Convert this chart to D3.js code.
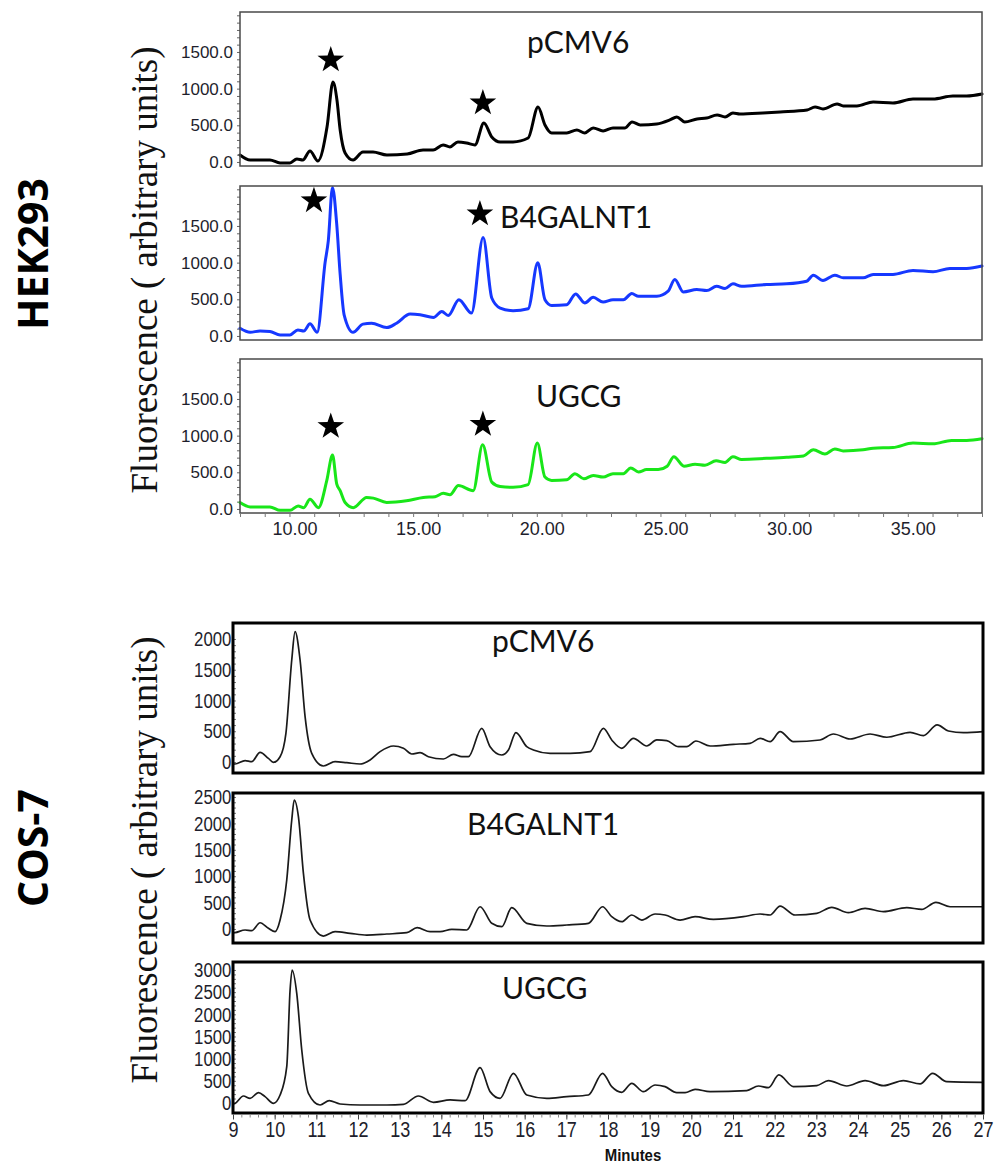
<!DOCTYPE html>
<html>
<head>
<meta charset="utf-8">
<script src="https://cdn.jsdelivr.net/npm/d3@7"></script>
<style>
  body { margin: 0; background: #fff; }
  svg { display: block; }
</style>
</head>
<body>
<svg id="chart" width="997" height="1166"></svg>
<script>
// ---------- HEK293 chromatograms: [retention time (min), fluorescence] ----------
const hekPcmv6 = [
  [8.0,95],[8.41,27],[9.21,27],[9.62,-14],[10.02,-14],[10.30,41],[10.54,27],[10.83,150],[11.15,14],
  [11.52,480],[11.76,1090],[11.92,845],[12.05,436],[12.25,123],[12.57,27],[12.97,136],[13.38,136],
  [13.94,95],[14.76,109],[15.40,164],[15.81,164],[16.21,232],[16.49,205],[16.81,273],[17.16,259],
  [17.50,232],[17.86,532],[18.18,341],[18.52,273],[19.04,273],[19.65,327],[20.05,750],[20.33,505],
  [20.60,396],[21.21,396],[21.62,436],[21.94,396],[22.28,464],[22.68,423],[23.08,464],[23.57,464],
  [23.85,546],[24.18,505],[24.85,518],[25.38,573],[25.66,614],[25.98,546],[26.48,587],[26.87,600],
  [27.29,641],[27.61,614],[27.93,668],[28.21,655],[29.14,668],[29.84,682],[30.93,709],[31.25,750],
  [31.57,723],[32.14,791],[32.39,764],[32.94,764],[33.60,818],[34.40,805],[35.21,859],[36.02,859],
  [36.82,900],[37.38,900],[38.0,927]
];
const hekB4galnt1 = [
  [8.0,105],[8.41,50],[8.81,69],[9.21,60],[9.62,14],[10.02,14],[10.34,82],[10.58,69],[10.83,165],
  [11.12,50],[11.44,1000],[11.57,1297],[11.74,2025],[11.91,1527],[12.05,839],[12.21,289],[12.57,50],
  [12.97,161],[13.32,174],[13.93,114],[14.33,174],[14.88,298],[15.28,289],[15.82,252],[16.16,334],
  [16.42,279],[16.85,495],[17.36,312],[17.83,1344],[18.18,518],[18.52,381],[19.04,344],[19.65,371],
  [20.04,1000],[20.33,495],[20.60,417],[21.21,426],[21.57,573],[21.94,450],[22.28,527],[22.68,463],
  [23.08,495],[23.50,495],[23.84,578],[24.11,541],[24.85,541],[25.31,610],[25.58,770],[25.92,601],
  [26.47,633],[26.87,619],[27.27,678],[27.61,647],[27.93,711],[28.28,678],[29.29,702],[30.10,711],
  [30.91,747],[31.18,829],[31.57,756],[32.05,829],[32.39,793],[33.19,793],[33.60,839],[34.40,839],
  [35.21,894],[36.02,876],[36.70,921],[37.38,921],[38.0,953]
];
const hekUgcg = [
  [8.0,88],[8.41,28],[9.21,28],[9.62,-18],[10.02,-18],[10.35,42],[10.58,18],[10.83,134],[11.17,18],
  [11.51,389],[11.74,736],[11.91,343],[12.05,250],[12.25,88],[12.58,18],[13.12,157],[13.39,148],
  [13.93,88],[14.73,111],[15.41,157],[15.89,167],[16.22,213],[16.49,194],[16.83,319],[17.43,250],
  [17.81,875],[18.18,366],[18.52,306],[19.04,296],[19.65,333],[20.02,898],[20.33,435],[20.60,389],
  [21.21,398],[21.54,481],[21.90,412],[22.28,458],[22.68,435],[23.08,481],[23.50,481],[23.80,560],
  [24.11,504],[24.44,537],[24.91,537],[25.27,583],[25.54,713],[25.95,583],[26.40,611],[26.80,597],
  [27.25,657],[27.61,634],[27.93,713],[28.28,676],[29.29,690],[30.10,704],[30.78,722],[31.18,806],
  [31.65,750],[32.05,819],[32.39,792],[33.19,806],[33.60,829],[34.40,838],[35.21,898],[36.02,889],
  [36.77,935],[37.38,935],[38.0,958]
];
// starred peaks: [retention time, height of the marker]
const hekPcmv6Stars = [[11.67,1391],[17.82,805]];
const hekB4galnt1Stars = [[10.99,1843],[17.70,1664]];
const hekUgcgStars = [[11.67,1125],[17.82,1153]];

// ---------- COS-7 chromatograms ----------
const cosPcmv6 = [
  [9.0,-30],[9.05,-33],[9.29,22],[9.45,5],[9.65,157],[9.85,59],[9.97,-5],[10.13,86],[10.27,466],
  [10.41,1658],[10.49,2119],[10.61,1658],[10.73,737],[10.89,141],[11.17,-65],[11.45,5],[11.73,-11],
  [12.05,-33],[12.29,33],[12.53,168],[12.85,260],[13.09,223],[13.29,130],[13.49,151],[13.69,86],
  [14.05,49],[14.29,125],[14.49,86],[14.65,86],[14.97,548],[15.17,249],[15.45,114],[15.61,195],
  [15.79,477],[16.05,249],[16.21,195],[16.61,141],[17.09,141],[17.57,168],[17.89,548],[18.09,358],
  [18.33,223],[18.61,385],[18.93,260],[19.17,358],[19.41,346],[19.69,249],[19.89,249],[20.11,341],
  [20.45,260],[21.01,288],[21.41,304],[21.65,385],[21.89,330],[22.13,493],[22.45,330],[23.09,358],
  [23.41,455],[23.81,374],[24.29,455],[24.69,402],[25.25,483],[25.57,428],[25.90,602],[26.17,504],
  [26.53,477],[27.0,493]
];
const cosB4galnt1 = [
  [9.0,-75],[9.05,-70],[9.29,-19],[9.45,-32],[9.65,119],[9.85,13],[10.01,-51],[10.13,170],[10.29,928],
  [10.41,2064],[10.47,2443],[10.57,2127],[10.69,1053],[10.85,170],[11.17,-133],[11.45,-51],[11.81,-82],
  [12.21,-114],[12.69,-95],[13.17,-70],[13.42,25],[13.73,-51],[13.97,-51],[14.25,-6],[14.61,-19],
  [14.93,422],[15.21,108],[15.45,44],[15.69,404],[16.05,108],[16.53,57],[17.01,76],[17.53,108],
  [17.87,422],[18.09,233],[18.33,138],[18.57,265],[18.81,170],[19.13,284],[19.37,265],[19.73,170],
  [20.09,233],[20.53,182],[21.25,233],[21.65,284],[21.89,265],[22.13,435],[22.49,265],[23.01,297],
  [23.37,411],[23.77,309],[24.17,391],[24.61,328],[25.17,404],[25.53,372],[25.87,505],[26.21,422],
  [27.0,422]
];
const cosUgcg = [
  [9.0,-20],[9.05,-8],[9.25,158],[9.41,105],[9.61,233],[9.77,143],[9.97,-8],[10.13,180],[10.29,820],
  [10.37,2549],[10.42,3000],[10.53,2474],[10.65,1195],[10.81,218],[11.09,-45],[11.31,53],[11.57,-23],
  [12.05,-45],[12.69,-45],[13.09,-30],[13.45,158],[13.81,15],[14.21,68],[14.57,53],[14.93,797],
  [15.17,256],[15.41,105],[15.73,669],[16.05,180],[16.53,105],[17.01,143],[17.53,180],[17.87,669],
  [18.09,368],[18.33,241],[18.57,444],[18.85,256],[19.13,406],[19.37,368],[19.65,233],[19.85,233],
  [20.09,309],[20.45,256],[21.33,278],[21.61,383],[21.85,346],[22.10,632],[22.45,368],[23.01,391],
  [23.29,504],[23.73,383],[24.17,504],[24.61,391],[25.09,504],[25.49,429],[25.79,669],[26.13,481],
  [27.0,466]
];

// ---------- tick labels ----------
const hekYTicks = [0, 500, 1000, 1500];
const hekXTicks = [10, 15, 20, 25, 30, 35];
const cosPcmv6YTicks = [0, 500, 1000, 1500, 2000];
const cosB4galnt1YTicks = [0, 500, 1000, 1500, 2000, 2500];
const cosUgcgYTicks = [0, 500, 1000, 1500, 2000, 2500, 3000];
const cosXTicks = d3.range(9, 28);

const sampleNames = ['pCMV6', 'B4GALNT1', 'UGCG'];
const cellLines = ['HEK293', 'COS-7'];
const yAxisTitle = 'Fluorescence ( arbitrary units)';
const xAxisTitle = 'Minutes';

// ---------- layout ----------
const svg = d3.select('#chart');
svg.append('rect').attr('width', 997).attr('height', 1166).attr('fill', '#fff');

const tickInk = '#1e1e2c';
const sans = '"Liberation Sans",Arial,sans-serif';
const line = (x, y) => d3.line().x(d => x(d[0])).y(d => y(d[1])).curve(d3.curveMonotoneX);

// squeeze tick text horizontally (about its anchor) to imitate a condensed face
function condense(sel, factor) {
  sel.attr('transform', `scale(${factor},1)`);
}

function starPath(R, r) {
  const pts = [];
  for (let i = 0; i < 10; i++) {
    const a = -Math.PI / 2 + i * Math.PI / 5;
    const rad = i % 2 ? r : R;
    pts.push([rad * Math.cos(a), rad * Math.sin(a)]);
  }
  return 'M' + pts.map(p => p[0].toFixed(2) + ',' + p[1].toFixed(2)).join('L') + 'Z';
}

// ----- HEK293 group -----
const hek = {
  left: 240, right: 982, height: 154,
  panels: [
    { top: 12,  values: hekPcmv6,    stars: hekPcmv6Stars,    color: '#000000', label: [527, 41] },
    { top: 186, values: hekB4galnt1, stars: hekB4galnt1Stars, color: '#1638ff', label: [500, 42] },
    { top: 359, values: hekUgcg,     stars: hekUgcgStars,     color: '#19e619', label: [536, 48] }
  ]
};
const hx = d3.scaleLinear().domain([8, 38]).range([hek.left, hek.right]);

hek.panels.forEach((p, i) => {
  const y = d3.scaleLinear().domain([-55, 2045]).range([p.top + hek.height, p.top]);
  const g = svg.append('g');

  // minor ticks on the left edge
  g.append('g').attr('transform', `translate(${hek.left},0)`)
    .call(d3.axisLeft(y).tickValues(d3.range(0, 2001, 100)).tickSize(3).tickFormat(''))
    .call(a => a.select('.domain').remove())
    .call(a => a.selectAll('line').attr('stroke', '#666').attr('stroke-width', 1));

  // value labels
  g.append('g').attr('transform', `translate(${hek.left},0)`)
    .call(d3.axisLeft(y).tickValues(hekYTicks).tickSize(0).tickPadding(7).tickFormat(d3.format('.1f')))
    .call(a => a.select('.domain').remove())
    .call(a => a.selectAll('text').attr('font-family', sans)
      .attr('font-size', 17).attr('fill', tickInk));

  g.append('path').datum(p.values)
    .attr('d', line(hx, y))
    .attr('fill', 'none').attr('stroke', p.color).attr('stroke-width', 3)
    .attr('stroke-linejoin', 'round').attr('stroke-linecap', 'round');

  g.append('rect')
    .attr('x', hek.left).attr('y', p.top)
    .attr('width', hek.right - hek.left).attr('height', hek.height)
    .attr('fill', 'none').attr('stroke', '#4a4a4a').attr('stroke-width', 1.5);

  g.selectAll('path.star').data(p.stars).join('path')
    .attr('class', 'star')
    .attr('d', starPath(14, 5.5))
    .attr('transform', d => `translate(${hx(d[0])},${y(d[1])})`)
    .attr('fill', '#000');

  g.append('text')
    .attr('x', p.label[0]).attr('y', p.top + p.label[1])
    .attr('font-family', 'Lato,"Open Sans",sans-serif').attr('font-size', 30)
    .attr('fill', '#111').text(sampleNames[i]);

  if (i === hek.panels.length - 1) {
    const base = p.top + hek.height;
    g.append('g').attr('transform', `translate(0,${base})`)
      .call(d3.axisBottom(hx).tickValues(d3.range(8, 39, 1)).tickSize(4).tickFormat(''))
      .call(a => a.select('.domain').remove())
      .call(a => a.selectAll('line').attr('stroke', '#777'));
    g.append('g').attr('transform', `translate(0,${base})`)
      .call(d3.axisBottom(hx).tickValues(hekXTicks).tickSize(0).tickPadding(9).tickFormat(d3.format('.2f')))
      .call(a => a.select('.domain').remove())
      .call(a => a.selectAll('text').attr('dx', 5)
        .attr('font-family', sans)
        .attr('font-size', 18).attr('fill', tickInk));
  }
});

// ----- COS-7 group -----
const cos = {
  left: 233, right: 983,
  panels: [
    { top: 623, height: 150, domain: [-179, 2260], ticks: cosPcmv6YTicks,    values: cosPcmv6,    label: [492, 29] },
    { top: 793, height: 150, domain: [-265, 2576], ticks: cosB4galnt1YTicks, values: cosB4galnt1, label: [467, 42] },
    { top: 962, height: 151, domain: [-226, 3180], ticks: cosUgcgYTicks,     values: cosUgcg,     label: [502, 37] }
  ]
};
const cx = d3.scaleLinear().domain([9, 27]).range([cos.left, cos.right]);

cos.panels.forEach((p, i) => {
  const y = d3.scaleLinear().domain(p.domain).range([p.top + p.height, p.top]);
  const g = svg.append('g');

  g.append('g').attr('transform', `translate(${cos.left},0)`)
    .call(d3.axisRight(y).tickValues(d3.range(0, p.ticks[p.ticks.length - 1] + 1, 100)).tickSize(3).tickFormat(''))
    .call(a => a.select('.domain').remove())
    .call(a => a.selectAll('line').attr('stroke', '#777').attr('stroke-width', 1));

  g.append('g').attr('transform', `translate(${cos.left},0)`)
    .call(d3.axisLeft(y).tickValues(p.ticks).tickSize(0).tickPadding(2).tickFormat(d3.format('d')))
    .call(a => a.select('.domain').remove())
    .call(a => a.selectAll('text').attr('font-family', sans)
      .attr('font-size', 21).attr('fill', tickInk))
    .call(a => condense(a.selectAll('text'), 0.8));

  g.append('path').datum(p.values)
    .attr('d', line(cx, y))
    .attr('fill', 'none').attr('stroke', '#1a1a1a').attr('stroke-width', 1.7)
    .attr('stroke-linejoin', 'round');

  g.append('rect')
    .attr('x', cos.left).attr('y', p.top)
    .attr('width', cos.right - cos.left).attr('height', p.height)
    .attr('fill', 'none').attr('stroke', '#000').attr('stroke-width', 3);

  g.append('text')
    .attr('x', p.label[0]).attr('y', p.top + p.label[1])
    .attr('font-family', 'Lato,"Open Sans",sans-serif').attr('font-size', 30)
    .attr('fill', '#111').text(sampleNames[i]);

  if (i === cos.panels.length - 1) {
    const base = p.top + p.height + 1.5;
    g.append('g').attr('transform', `translate(0,${base})`)
      .call(d3.axisBottom(cx).tickValues(d3.range(9, 27.01, 0.2)).tickSize(3).tickFormat(''))
      .call(a => a.select('.domain').remove())
      .call(a => a.selectAll('line').attr('stroke', '#888'));
    g.append('g').attr('transform', `translate(0,${base})`)
      .call(d3.axisBottom(cx).tickValues(cosXTicks).tickSize(5).tickPadding(2).tickFormat(d3.format('d')))
      .call(a => a.select('.domain').remove())
      .call(a => a.selectAll('line').attr('stroke', '#444'))
      .call(a => a.selectAll('text').attr('font-family', sans)
        .attr('font-size', 22).attr('fill', tickInk))
      .call(a => condense(a.selectAll('text'), 0.82));
    g.append('g').attr('transform', `translate(${(cos.left + cos.right) / 2 + 25},1161)`)
      .append('text')
      .attr('text-anchor', 'middle')
      .attr('transform', 'scale(0.88,1)')
      .attr('font-family', sans).attr('font-weight', 'bold').attr('font-size', 17)
      .attr('fill', '#111').text(xAxisTitle);
  }
});

// ----- group titles -----
[[270, 157], [860, 157]].forEach(([cy, bx]) => {
  svg.append('text')
    .attr('transform', `translate(${bx},${cy}) rotate(-90)`)
    .attr('text-anchor', 'middle')
    .attr('font-family', '"Liberation Serif","Times New Roman",serif').attr('font-size', 37)
    .attr('fill', '#111').text(yAxisTitle);
});
[[254, cellLines[0]], [848, cellLines[1]]].forEach(([cy, name]) => {
  svg.append('text')
    .attr('transform', `translate(48,${cy}) rotate(-90)`)
    .attr('text-anchor', 'middle')
    .attr('font-family', '"Open Sans",sans-serif').attr('font-weight', 'bold').attr('font-size', 41)
    .attr('fill', '#000').text(name);
});
</script>
</body>
</html>
